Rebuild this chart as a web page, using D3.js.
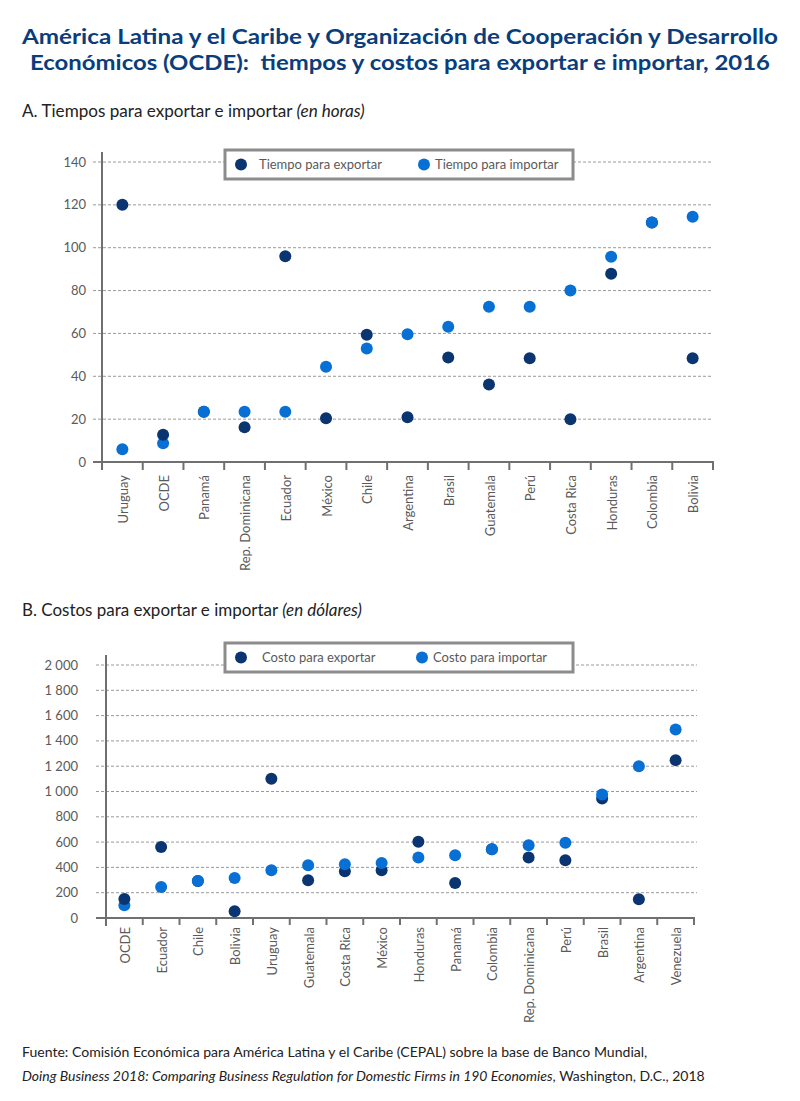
<!DOCTYPE html>
<html>
<head>
<meta charset="utf-8">
<script src="https://cdn.jsdelivr.net/npm/d3@7"></script>
<style>
  body { margin: 0; background: #fff; }
  text { font-family: Lato, "Open Sans", sans-serif; }
</style>
</head>
<body>
<svg id="chart" width="800" height="1101"></svg>
<script>
// ---- data ----
var timeCountries = ["Uruguay", "OCDE", "Panamá", "Rep. Dominicana", "Ecuador", "México", "Chile",
  "Argentina", "Brasil", "Guatemala", "Perú", "Costa Rica", "Honduras", "Colombia", "Bolivia"];
var timeExport = [120, 12.7, 23.5, 16.2, 96, 20.4, 59.4, 20.9, 48.8, 36.2, 48.4, 19.9, 87.9, 111.8, 48.4];
var timeImport = [5.9, 8.7, 23.5, 23.5, 23.5, 44.5, 53, 59.6, 63.1, 72.5, 72.5, 80, 95.8, 111.8, 114.5];
var timeTicks = [0, 20, 40, 60, 80, 100, 120, 140];

var costCountries = ["OCDE", "Ecuador", "Chile", "Bolivia", "Uruguay", "Guatemala", "Costa Rica", "México",
  "Honduras", "Panamá", "Colombia", "Rep. Dominicana", "Perú", "Brasil", "Argentina", "Venezuela"];
var costExport = [150, 562, 293, 53, 1100, 298, 370, 377, 602, 277, 544, 478, 457, 945, 148, 1248];
var costImport = [100, 245, 293, 317, 377, 417, 425, 435, 478, 496, 544, 575, 594, 977, 1200, 1491];
var costTicks = [0, 200, 400, 600, 800, 1000, 1200, 1400, 1600, 1800, 2000];

var darkBlue = "#0b3571";
var lightBlue = "#086fd4";
var titleBlue = "#0a3d7c";
var grayText = "#5a5a5a";

var svg = d3.select("#chart");

// shrink/grow a text node's font size so it spans a given width
function fitText(sel, width) {
  var node = sel.node();
  var fs = parseFloat(sel.style("font-size"));
  var w = node.getComputedTextLength();
  sel.style("font-size", (fs * width / w) + "px");
}

// ---- titles (squeezed to the reference width, font size kept) ----
svg.append("text").attr("x", 400).attr("y", 44).attr("text-anchor", "middle")
  .style("font-size", "21px").style("font-weight", "bold").attr("fill", titleBlue)
  .attr("textLength", 756).attr("lengthAdjust", "spacingAndGlyphs")
  .text("América Latina y el Caribe y Organización de Cooperación y Desarrollo");
svg.append("text").attr("x", 400).attr("y", 70).attr("text-anchor", "middle")
  .style("font-size", "21px").style("font-weight", "bold").attr("fill", titleBlue)
  .style("white-space", "pre")
  .attr("textLength", 740).attr("lengthAdjust", "spacingAndGlyphs")
  .text("Económicos (OCDE):  tiempos y costos para exportar e importar, 2016");

function subtitle(y, main, it, width) {
  var s = svg.append("text").attr("x", 22).attr("y", y).style("font-size", "16px").attr("fill", "#222")
    .style("white-space", "pre");
  s.append("tspan").text(main);
  s.append("tspan").style("font-style", "italic").text(it);
  fitText(s, width);
}
subtitle(117, "A. Tiempos para exportar e importar ", "(en horas)", 343);
subtitle(616, "B. Costos para exportar e importar ", "(en dólares)", 340);

// ---- one panel ----
function drawPanel(opt) {
  var g = svg.append("g");
  var x = d3.scaleBand().domain(opt.categories).range([opt.left, opt.right]);
  var y = d3.scaleLinear().domain([0, opt.max]).range([opt.bottom, opt.top]);

  // gridlines
  g.selectAll(".grid").data(opt.ticks.filter(function(d) { return d > 0; }))
    .enter().append("line")
    .attr("x1", opt.gridLeft).attr("x2", opt.gridRight)
    .attr("y1", function(d) { return y(d); }).attr("y2", function(d) { return y(d); })
    .attr("stroke", "#9a9a9a").attr("stroke-width", 1).attr("stroke-dasharray", "3,2");

  // y tick labels
  g.selectAll(".ylab").data(opt.ticks).enter().append("text")
    .attr("x", opt.labelRight).attr("y", function(d) { return y(d); })
    .attr("dy", "0.35em").attr("text-anchor", "end")
    .style("font-size", "13px").style("white-space", "pre").attr("fill", grayText)
    .text(opt.format);

  // axes lines
  g.append("line").attr("x1", opt.left).attr("x2", opt.left)
    .attr("y1", opt.top - 10).attr("y2", opt.bottom + 8)
    .attr("stroke", "#707070").attr("stroke-width", 2);
  g.append("line").attr("x1", opt.gridLeft).attr("x2", opt.right + 1)
    .attr("y1", opt.bottom).attr("y2", opt.bottom)
    .attr("stroke", "#707070").attr("stroke-width", 2);

  // category ticks at band edges
  var edges = opt.categories.map(function(c) { return x(c); }).concat([opt.right]);
  g.selectAll(".xtick").data(edges.slice(1)).enter().append("line")
    .attr("x1", function(d) { return d; }).attr("x2", function(d) { return d; })
    .attr("y1", opt.bottom).attr("y2", opt.bottom + opt.tickLen)
    .attr("stroke", "#707070").attr("stroke-width", 2);

  // category labels
  g.selectAll(".xlab").data(opt.categories).enter().append("text")
    .attr("transform", function(d) {
      return "translate(" + (x(d) + x.bandwidth() / 2 + 1) + "," + opt.labelTop + ") rotate(-90)";
    })
    .attr("dy", "0.35em").attr("text-anchor", "end")
    .style("font-size", "13px").attr("fill", grayText)
    .text(function(d) { return d; });

  // legend
  var lg = g.append("g");
  lg.append("rect").attr("x", 225).attr("y", opt.legendY).attr("width", 348).attr("height", 29)
    .attr("fill", "#fff").attr("stroke", "#8c8c8c").attr("stroke-width", 3);
  var items = [
    { name: opt.names[0], color: darkBlue, dot: 241, tx: opt.legendText[0] },
    { name: opt.names[1], color: lightBlue, dot: opt.legendDot2, tx: opt.legendText[1] }
  ];
  items.forEach(function(it) {
    lg.append("circle").attr("cx", it.dot).attr("cy", opt.legendY + 14.5).attr("r", 6).attr("fill", it.color);
    lg.append("text").attr("x", it.tx).attr("y", opt.legendY + 14.5).attr("dy", "0.35em")
      .style("font-size", "13px").attr("fill", grayText).text(it.name);
  });

  // points: within a country the lower value goes underneath
  var pts = [];
  opt.categories.forEach(function(c, i) {
    var a = { c: c, v: opt.exp[i], color: darkBlue };
    var b = { c: c, v: opt.imp[i], color: lightBlue };
    if (a.v > b.v) { pts.push(b, a); } else { pts.push(a, b); }
  });
  g.selectAll(".pt").data(pts).enter().append("circle")
    .attr("cx", function(d) { return x(d.c) + x.bandwidth() / 2; })
    .attr("cy", function(d) { return y(d.v); })
    .attr("r", 6)
    .attr("fill", function(d) { return d.color; });
}

drawPanel({
  categories: timeCountries, exp: timeExport, imp: timeImport, ticks: timeTicks, max: 140,
  left: 102, right: 713, top: 162, bottom: 462, gridLeft: 93, gridRight: 713,
  labelRight: 86, labelTop: 475, tickLen: 8,
  format: function(d) { return d; },
  names: ["Tiempo para exportar", "Tiempo para importar"],
  legendY: 150, legendDot2: 424, legendText: [259, 435]
});

// thousands separated by a space, as in the reference ("2 000")
var fmt = d3.formatLocale({ decimal: ",", thousands: " ", grouping: [3], currency: ["", ""] }).format(",d");
drawPanel({
  categories: costCountries, exp: costExport, imp: costImport, ticks: costTicks, max: 2000,
  left: 106, right: 694, top: 665, bottom: 918, gridLeft: 96, gridRight: 697,
  labelRight: 78, labelTop: 927, tickLen: 7,
  format: function(d) { return fmt(d); },
  names: ["Costo para exportar", "Costo para importar"],
  legendY: 643, legendDot2: 422, legendText: [262, 433]
});

// ---- source ----
var f1 = svg.append("text").attr("x", 22).attr("y", 1057).style("font-size", "13px").attr("fill", "#222")
  .text("Fuente: Comisión Económica para América Latina y el Caribe (CEPAL) sobre la base de Banco Mundial,");
fitText(f1, 626);
var f2 = svg.append("text").attr("x", 22).attr("y", 1081).style("font-size", "13px").attr("fill", "#222");
f2.append("tspan").style("font-style", "italic")
  .text("Doing Business 2018: Comparing Business Regulation for Domestic Firms in 190 Economies");
f2.append("tspan").text(", Washington, D.C., 2018");
fitText(f2, 683);
</script>
</body>
</html>
